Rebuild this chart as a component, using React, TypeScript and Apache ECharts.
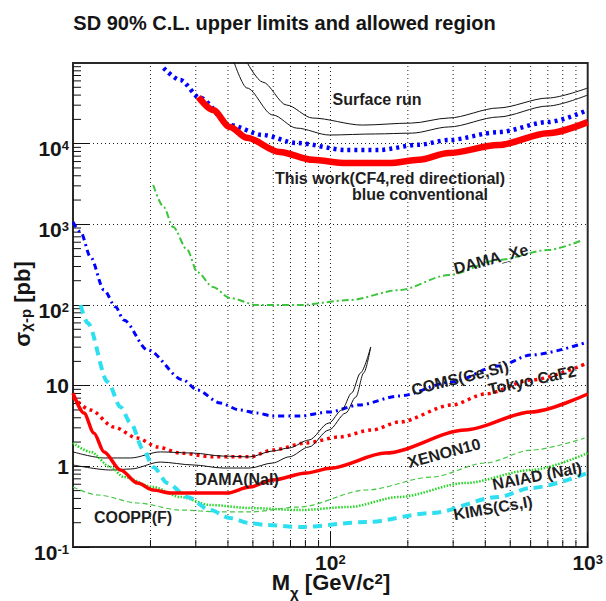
import React, { useEffect, useRef } from "react";
import * as echarts from "echarts";

const FONT = '"Liberation Sans", Arial, Helvetica, sans-serif';
const X_MIN = 10;
const X_MAX = 1000;
const Y_MIN = 0.1;
const Y_MAX = 1e5;

const TITLE = "SD 90% C.L. upper limits and allowed region";

// [M_chi (GeV/c^2), sigma (pb)]
const surfaceRunLow = [[41.9, 110000], [47.4, 49000], [59.7, 22700], [73.9, 15600], [99, 12800], [150, 13200], [207, 13500], [288, 16100], [449, 21400], [701, 29300], [1000, 40100]];
const surfaceRunHigh = [[46.8, 110000], [54.6, 58000], [67.6, 30100], [85.2, 20800], [133, 17000], [207, 18000], [288, 20800], [449, 27700], [701, 36800], [1000, 49000]];
const thisWorkDirectional = [[30.7, 37800], [35, 26100], [40.7, 16100], [47.4, 11800], [63.5, 7900], [85.2, 6300], [115, 5750], [169, 5750], [221, 6300], [288, 7650], [449, 9600], [701, 13500], [1000, 18500]];
const thisWorkConventional = [[22.5, 86700], [26.1, 61500], [31.2, 36800], [40.7, 17000], [54.6, 12800], [73.9, 10200], [115, 8340], [154, 8340], [221, 9700], [288, 11100], [449, 13900], [701, 18500], [1000, 26100]];
const damaXe = [[20.5, 3070], [22.5, 1640], [24.5, 927], [27.8, 481], [30.4, 256], [35, 167], [40.7, 122], [51.8, 100], [75.9, 100], [118, 115], [185, 153], [288, 235], [449, 361], [701, 481], [957, 640]];
const cdmsGeSi = [[10, 1070], [10.7, 803], [11.7, 394], [13.2, 153], [14.65, 94.4], [15.74, 65.2], [19.5, 27.7], [26.8, 11.75], [30.4, 8.83], [37.3, 6.1], [44.5, 4.99], [51.8, 4.58], [59.7, 4.21], [75.9, 4.21], [99, 4.72], [129, 5.76], [185, 7.45], [296, 11.1], [449, 17.5], [603, 24.0], [1000, 34.8]];
const tokyoCaF2 = [[10, 7.23], [11.7, 4.99], [14.4, 3.07], [17.8, 2.24], [21.3, 1.74], [26.1, 1.46], [35, 1.31], [48.6, 1.31], [59.7, 1.59], [80.7, 1.95], [108, 2.31], [145, 2.82], [185, 3.54], [296, 5.76], [400, 7.88], [603, 11.75], [1000, 19.1]];
const xenon10 = [[10, 8.11], [11.03, 4.58], [12.05, 2.59], [13.2, 1.51], [15.3, 0.9], [17.8, 0.621], [20.5, 0.509], [23.9, 0.467], [39.7, 0.467], [48.6, 0.554], [59.7, 0.677], [80.7, 0.827], [100, 0.95], [164, 1.46], [335, 2.82], [603, 4.72], [1000, 7.88]];
const damaNaIHigh = [[10, 1.51], [13.2, 1.27], [16.75, 1.27], [21.85, 1.51], [29.3, 1.46], [38.3, 1.34], [48.6, 1.31], [59.7, 1.55], [69.1, 1.69], [82.6, 2.12], [98.7, 3.44], [110.8, 4.99], [121, 8.11], [131, 14.4], [143.5, 30.1]];
const damaNaILow = [[10, 1.04], [14, 0.9], [16.75, 0.927], [21.85, 1.13], [29.3, 1.04], [38.3, 0.953], [48.6, 0.953], [59.7, 1.1], [69.1, 1.31], [82.6, 1.74], [98.7, 2.82], [114.8, 4.58], [125.6, 7.23], [134.8, 14.4], [143.5, 30.1]];
const naiad = [[10, 1.95], [11.7, 1.51], [14, 0.98], [15.74, 0.737], [20.5, 0.554], [26.1, 0.417], [34.1, 0.332], [48.6, 0.304], [75.9, 0.287], [118, 0.313], [185, 0.417], [335, 0.621], [603, 0.9], [1000, 1.46]];
const coopp = [[10, 0.554], [12.5, 0.441], [17.8, 0.351], [26.1, 0.287], [37.3, 0.272], [48.6, 0.272], [75.9, 0.313], [138, 0.509], [248, 0.737], [400, 1.1], [603, 1.59], [972, 2.24]];
const kims = [[10.7, 100], [11.4, 59.8], [13.65, 11.1], [15.3, 5.44], [16.75, 3.44], [18.8, 1.59], [20.5, 0.98], [23.3, 0.621], [27.8, 0.417], [34.1, 0.287], [40.7, 0.229], [48.6, 0.198], [56.6, 0.1875], [75.9, 0.177], [138, 0.204], [248, 0.264], [449, 0.417], [603, 0.539], [1000, 0.827]];

// grid / tick positions
const xMinorValues = [20, 30, 40, 50, 60, 70, 80, 90, 200, 300, 400, 500, 600, 700, 800, 900];
const yDecades = [0.1, 1, 10, 100, 1000, 10000];
const yMinorMultipliers = [2, 3, 4, 5, 6, 7, 8, 9];

// curve labels: text, x, y (px), angle (deg)
const curveLabels: [string, number, number, number][] = [
  ["Surface run", 377, 99, 0],
  ["This work(CF4,red directional)", 390, 178, 0],
  ["blue conventional", 420, 194, 0],
  ["DAMA_Xe", 491, 259, 15],
  ["COMS(Ge,Si)", 460, 378, 14],
  ["Tokyo CaF2", 532, 380, 12],
  ["XENON10", 444, 453, 15],
  ["NAIAD (NaI)", 537, 476, 11],
  ["KIMS(Cs,I)", 493, 508, 10],
  ["DAMA(NaI)", 237, 479, 0],
  ["COOPP(F)", 133, 517, 0],
];

function buildOption() {
  const yMinorValues: number[] = [];
  yDecades.forEach((d) => yMinorMultipliers.forEach((m) => yMinorValues.push(d * m)));

  const line = (name: string, data: number[][], color: string, width: number, type: any, z = 3) => ({
    type: "line",
    name,
    data,
    symbol: "none",
    showSymbol: false,
    smooth: 0.3,
    smoothMonotone: "x",
    silent: true,
    z,
    lineStyle: { color, width, type, cap: "butt", join: "round" },
  });

  const labelRich = {
    n: { fontSize: 21, fontWeight: "bold", fontFamily: FONT, color: "#151515", lineHeight: 21 },
    b: { fontSize: 21, fontWeight: "bold", fontFamily: FONT, color: "#151515", lineHeight: 21, padding: [10, 0, 0, 0] },
    s: { fontSize: 13, fontWeight: "bold", fontFamily: FONT, color: "#151515", lineHeight: 13, verticalAlign: "top", padding: [6, 0, 0, 0] },
  };
  const fmt = (v: number) => {
    const e = Math.round(Math.log10(v));
    if (e === 0) return "{n|1}";
    if (e === 1) return "{n|10}";
    return "{b|10}{s|" + e + "}";
  };

  const nameRich = {
    b: { fontSize: 22, fontWeight: "bold", fontFamily: FONT, fill: "#151515", lineHeight: 22 },
    sub: { fontSize: 15, fontWeight: "bold", fontFamily: FONT, fill: "#151515", lineHeight: 15, verticalAlign: "top", padding: [14, 0, 0, 0] },
    sup: { fontSize: 15, fontWeight: "bold", fontFamily: FONT, fill: "#151515", lineHeight: 15, verticalAlign: "top", padding: [0, 0, 0, 0] },
    ysub: { fontSize: 15, fontWeight: "bold", fontFamily: FONT, fill: "#151515", lineHeight: 15, verticalAlign: "bottom" },
  };

  const graphic: any[] = [
    {
      type: "text",
      x: 284.5,
      y: 23,
      z: 100,
      style: { text: TITLE, font: "bold 20px " + FONT, fill: "#151515", align: "center", verticalAlign: "middle" },
    },
    {
      type: "text",
      x: 331,
      y: 582,
      z: 100,
      style: { text: "{b|M}{sub|χ}{b| [GeV/c}{sup|2}{b|]}", rich: nameRich, align: "center", verticalAlign: "middle" },
    },
    {
      type: "text",
      x: 22,
      y: 304,
      rotation: Math.PI / 2,
      z: 100,
      style: { text: "{b|σ}{ysub|χ-p}{b| [pb]}", rich: nameRich, align: "center", verticalAlign: "middle" },
    },
  ];
  curveLabels.forEach(([t, x, y, a]) => {
    graphic.push({
      type: "text",
      x,
      y,
      rotation: (a * Math.PI) / 180,
      z: 100,
      style: { text: t, font: "bold 16px " + FONT, fill: "#1e1e1e", align: "center", verticalAlign: "middle" },
    });
  });

  return {
    animation: false,
    backgroundColor: "#ffffff",
    grid: { left: 73, right: 16, top: 63, bottom: 54, show: true, borderColor: "#2a2a2a", borderWidth: 2, backgroundColor: "transparent" },
    xAxis: {
      type: "log",
      logBase: 10,
      min: X_MIN,
      max: X_MAX,
      axisLine: { show: false },
      axisTick: { show: true, inside: true, length: 15, lineStyle: { color: "#111", width: 1 } },
      splitLine: { show: true, lineStyle: { color: "#222", width: 1, type: [1, 3] } },
      axisLabel: { formatter: fmt, rich: labelRich, margin: 0, showMinLabel: false, showMaxLabel: true },
    },
    yAxis: {
      type: "log",
      logBase: 10,
      min: Y_MIN,
      max: Y_MAX,
      axisLine: { show: false },
      axisTick: { show: true, inside: true, length: 17, lineStyle: { color: "#111", width: 1 } },
      splitLine: { show: true, lineStyle: { color: "#222", width: 1, type: [1, 3] } },
      axisLabel: { formatter: fmt, rich: labelRich, margin: 4, showMinLabel: true, showMaxLabel: false },
    },
    graphic,
    series: [
      {
        type: "custom",
        silent: true,
        z: 1,
        clip: false,
        data: xMinorValues.map((v) => [v, 1]),
        renderItem: (_p: any, api: any) => {
          const v = api.value(0);
          const a = api.coord([v, Y_MIN]);
          const b = api.coord([v, Y_MAX]);
          return {
            type: "group",
            children: [
              { type: "line", shape: { x1: a[0], y1: a[1], x2: b[0], y2: b[1] }, style: { stroke: "#222", lineWidth: 1, lineDash: [1, 3] } },
              { type: "line", shape: { x1: a[0], y1: a[1], x2: a[0], y2: a[1] - 7 }, style: { stroke: "#111", lineWidth: 1 } },
            ],
          };
        },
      },
      {
        type: "custom",
        silent: true,
        z: 1,
        clip: false,
        data: yMinorValues.map((v) => [X_MIN, v]),
        renderItem: (_p: any, api: any) => {
          const p = api.coord([api.value(0), api.value(1)]);
          return { type: "line", shape: { x1: p[0], y1: p[1], x2: p[0] + 8, y2: p[1] }, style: { stroke: "#111", lineWidth: 1 } };
        },
      },
      line("Surface run low", surfaceRunLow, "#111111", 1),
      line("Surface run high", surfaceRunHigh, "#111111", 1),
      line("DAMA_Xe", damaXe, "#3cc43c", 2, [7, 3, 2, 3]),
      line("CDMS(Ge,Si)", cdmsGeSi, "#0000ff", 3, [6, 4, 2, 4]),
      line("Tokyo CaF2", tokyoCaF2, "#ff0000", 3.5, [3, 4]),
      line("DAMA(NaI) low", damaNaILow, "#111111", 1),
      line("DAMA(NaI) high", damaNaIHigh, "#111111", 1),
      line("NAIAD (NaI)", naiad, "#22d822", 2.5, [1.5, 1.5]),
      line("COOPP(F)", coopp, "#44c844", 1.2, [5, 3]),
      line("KIMS(Cs,I)", kims, "#2ee0ef", 4, [9, 6]),
      line("XENON10", xenon10, "#ff0000", 3.5, "solid"),
      line("This work conventional", thisWorkConventional, "#0000ff", 4.5, [3, 4], 4),
      line("This work directional", thisWorkDirectional, "#ff0000", 6.5, "solid", 5),
    ],
  };
}

export default function App() {
  const ref = useRef<HTMLDivElement>(null);
  useEffect(() => {
    if (!ref.current) return;
    const chart = echarts.init(ref.current, null, { renderer: "svg" });
    chart.setOption(buildOption() as any);
    return () => chart.dispose();
  }, []);
  return (
    <div
      ref={ref}
      style={{ position: "fixed", left: 0, top: 0, width: 606, height: 601, background: "#ffffff" }}
    />
  );
}
